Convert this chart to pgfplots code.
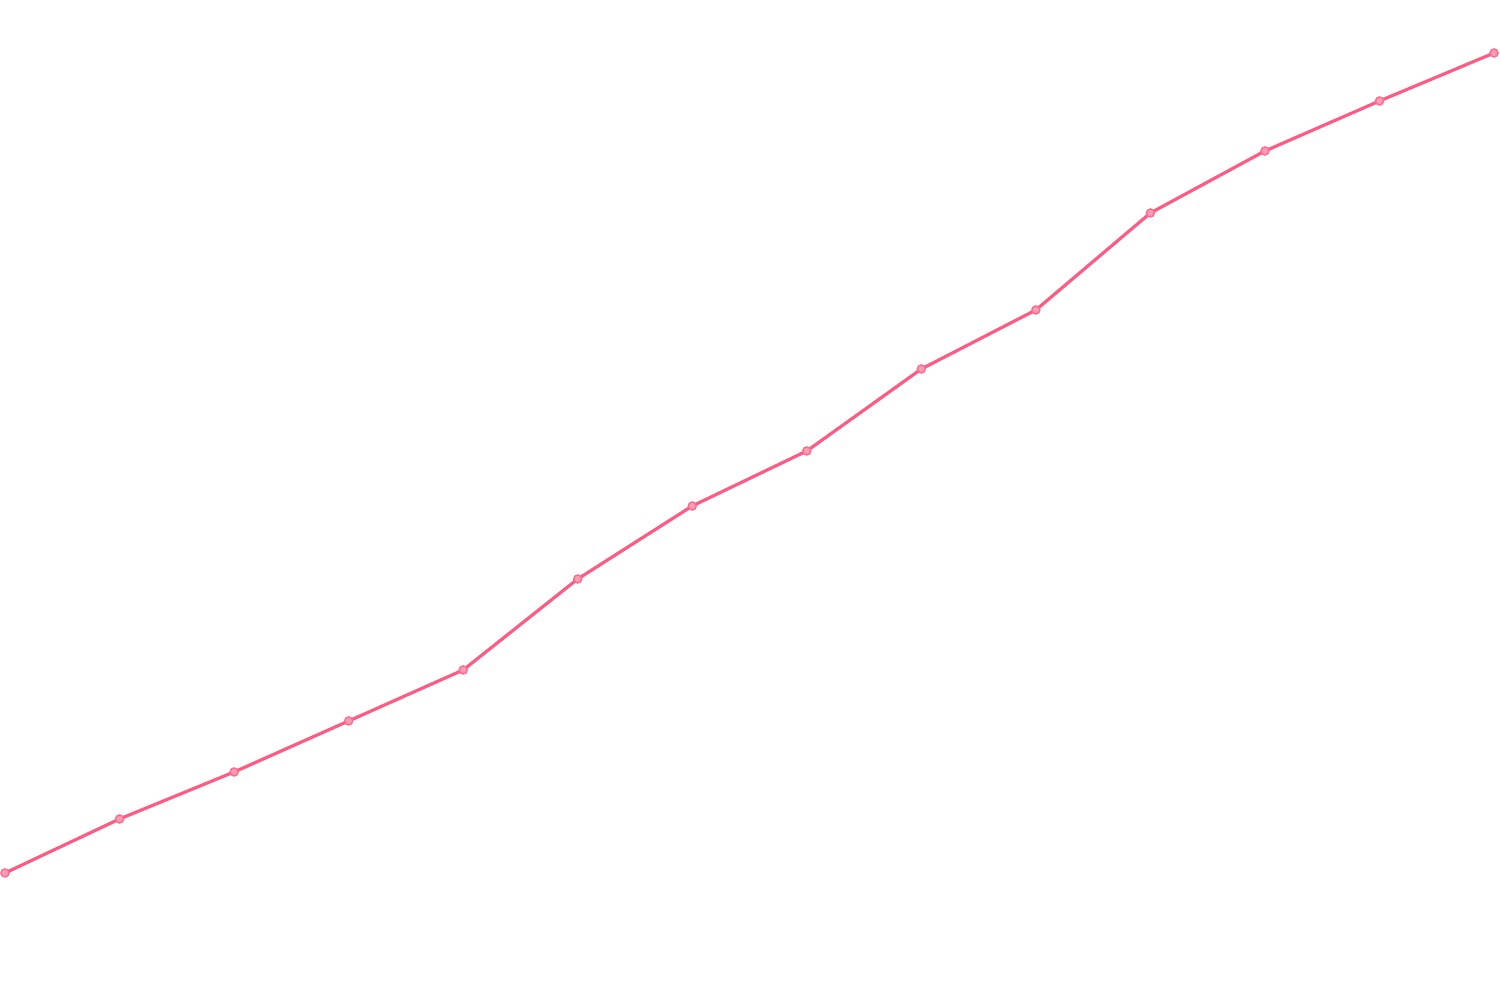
\documentclass[border=0pt]{standalone}
\usepackage{pgfplots}
\pgfplotsset{compat=1.18}
\definecolor{linec}{RGB}{255,90,130}
\begin{document}
\begin{tikzpicture}
\begin{axis}[
  width=15cm, height=10cm, scale only axis,
  hide axis,
  xmin=-0.0437, xmax=13.052,
  ymin=0, ymax=1000,
  clip=false,
]
\addplot[color=linec, line width=0.9pt, mark=*, mark size=1.15pt,
  mark options={fill=linec!60, draw=linec!90, line width=0.4pt}]
coordinates {
(0,127) (1,181) (2,228) (3,279) (4,330) (5,421) (6,494) (7,549) (8,631) (9,690) (10,787) (11,849) (12,899) (13,947)
};
\path (rel axis cs:0,0) (rel axis cs:1,1);
\end{axis}
\end{tikzpicture}
\end{document}
